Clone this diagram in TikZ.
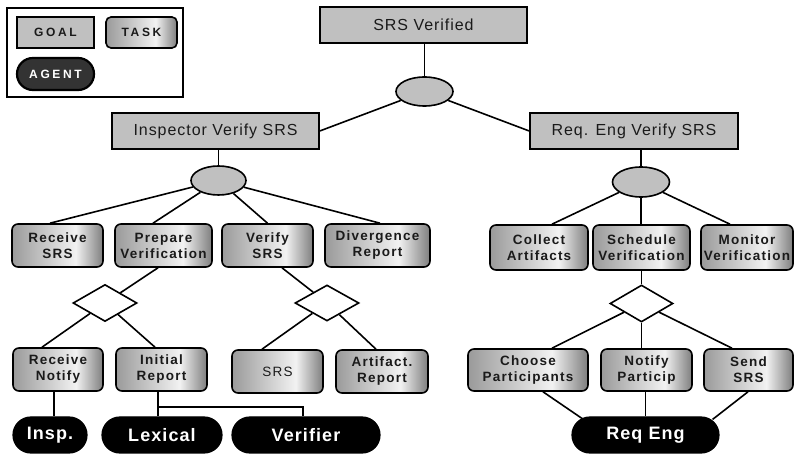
\documentclass[tikz,border=0pt]{standalone}
\usepackage{fontspec}
\setmainfont{Liberation Sans}
\newfontfamily\goalfont[LetterSpace=6]{Liberation Sans}
\newfontfamily\taskfont[LetterSpace=9]{Liberation Sans}
\newfontfamily\agentfont[LetterSpace=6]{Liberation Sans}
\newfontfamily\keyfont[LetterSpace=22]{Liberation Sans}
\usetikzlibrary{shapes.geometric,backgrounds,calc}

\definecolor{goalgray}{HTML}{C0C0C0}
\definecolor{tkL}{HTML}{9A9A9A}
\definecolor{tkM}{HTML}{F2F2F2}
\definecolor{tkR}{HTML}{7E7E7E}
\definecolor{keyagent}{HTML}{333333}
\definecolor{inkdark}{HTML}{1A1A1A}

% left-to-right metallic shading of the task boxes (node spans 25bp..75bp)
\pgfdeclarehorizontalshading{taskshade}{100bp}{color(0bp)=(tkL); color(25bp)=(tkL); color(60bp)=(tkM); color(75bp)=(tkR); color(100bp)=(tkR)}

\tikzset{
  goalbox/.style={rectangle, draw=black, line width=1.5pt, fill=goalgray, inner sep=0pt,
    minimum height=36pt, text=inkdark, font=\goalfont\fontsize{16}{19}\selectfont},
  taskbox/.style={rectangle, draw=black, line width=1.6pt, rounded corners=6pt, shading=taskshade,
    inner sep=0pt, minimum height=43pt, align=center, text=inkdark,
    font=\taskfont\bfseries\fontsize{13.5}{16}\selectfont},
  agentbox/.style={rectangle, draw=black, line width=1.2pt, fill=black, rounded corners=17.9pt,
    inner sep=0pt, minimum height=36pt, text=white,
    font=\agentfont\bfseries\fontsize{18}{21}\selectfont},
  andnode/.style={ellipse, draw=black, line width=1.6pt, fill=goalgray, inner sep=0pt,
    minimum width=57pt, minimum height=29pt},
  ornode/.style={diamond, draw=black, line width=1.6pt, fill=white, inner sep=0pt,
    minimum width=64pt, minimum height=37pt},
  link/.style={line width=1.6pt, draw=black, line join=miter},
  keytext/.style={font=\keyfont\bfseries\fontsize{12}{14}\selectfont}
}

\begin{document}
\begin{tikzpicture}[x=1pt, y=-1pt]
\useasboundingbox (0,0) rectangle (796,454);

% ---- legend ----
\node[draw=black, line width=1.5pt, inner sep=0pt, minimum width=176pt, minimum height=89pt] (key) at (95,52.5) {};
\node[goalbox, keytext, minimum width=77pt, minimum height=31pt] (keygoal) at (55.5,32.5) {GOAL};
\node[taskbox, keytext, rounded corners=5pt, minimum width=71pt, minimum height=31pt] (keytask) at (141.5,32.5) {TASK};
\node[agentbox, keytext, fill=keyagent, line width=2.2pt, rounded corners=15.9pt, minimum width=77pt, minimum height=32pt] (keyagent) at (55.5,74) {AGENT};

% ---- goals ----
\node[goalbox, minimum width=207pt] (srs) at (423.5,25) {SRS Verified};
\node[andnode] (topAnd) at (424.5,91.5) {};
\node[goalbox, minimum width=207pt] (insp) at (215.5,131) {Inspector Verify SRS};
\node[goalbox, minimum width=208pt] (reqg) at (634,131) {Req. Eng Verify SRS};
\node[andnode, minimum width=55pt] (insAnd) at (218.5,180.5) {};
\node[andnode, minimum height=30pt] (reqAnd) at (641,182) {};

% ---- inspector tasks ----
\node[taskbox, minimum width=91pt]  (rsrs) at (57.5,245.5)  {Receive\\SRS};
\node[taskbox, minimum width=97pt]  (prep) at (163.5,245.5) {Prepare\\Verification};
\node[taskbox, minimum width=91pt]  (ver)  at (267.5,245.5) {Verify\\SRS};
\node[taskbox, minimum width=105pt] (div)  at (377.5,245.5) {Divergence\\Report};

% ---- requirements engineer tasks ----
\node[taskbox, minimum width=98pt, minimum height=45pt] (col) at (539,247.5)   {Collect\\Artifacts};
\node[taskbox, minimum width=97pt, minimum height=45pt] (sch) at (641.5,247.5) {Schedule\\Verification};
\node[taskbox, minimum width=92pt, minimum height=45pt] (mon) at (747,247.5)   {Monitor\\Verification};

% ---- or-refinements ----
\node[ornode] (or1) at (105,303) {};
\node[ornode, minimum height=36pt] (or2) at (327,303) {};
\node[ornode, minimum width=63pt] (or3) at (641.5,303.5) {};

% ---- leaf tasks ----
\node[taskbox, minimum width=90pt] (rnot) at (58,369.5)    {Receive\\Notify};
\node[taskbox, minimum width=91pt] (irep) at (161.5,369.5) {Initial\\Report};
\node[taskbox, minimum width=91pt, font=\taskfont\fontsize{13.5}{16}\selectfont] (srs2) at (277.5,371.5) {SRS};
\node[taskbox, minimum width=92pt] (art)  at (382,371.5)   {Artifact.\\Report};
\node[taskbox, minimum width=120pt, minimum height=42pt] (cho) at (528,370)   {Choose\\Participants};
\node[taskbox, minimum width=91pt,  minimum height=42pt] (ntf) at (646.5,370) {Notify\\Particip};
\node[taskbox, minimum width=89pt,  minimum height=42pt] (snd) at (748.5,370) {Send\\SRS};

% ---- agents ----
\node[agentbox, minimum width=74pt]  (inspag) at (50,435)    {Insp.};
\node[agentbox, minimum width=120pt] (lex)    at (162,435)   {Lexical};
\node[agentbox, minimum width=148pt] (verif)  at (306,435)   {Verifier};
\node[agentbox, minimum width=147pt] (reqag)  at (645.5,435) {Req Eng};

% ---- connectors ----
\begin{scope}[on background layer]
  \draw[link] (srs.south -| topAnd) -- (topAnd);
  \draw[link] (topAnd) -- (insp.east);
  \draw[link] (topAnd) -- (reqg.west);
  \draw[link] (insp.south -| insAnd) -- (insAnd);
  \draw[link] (reqg.south -| reqAnd) -- (reqAnd);

  \draw[link] (insAnd) -- ([xshift=-7.5pt]rsrs.north);
  \draw[link] (insAnd) -- ([xshift=-10.5pt]prep.north);
  \draw[link] (insAnd) -- (ver.north);
  \draw[link] (insAnd) -- ([xshift=2.5pt]div.north);

  \draw[link] (reqAnd) -- ([xshift=13pt]col.north);
  \draw[link] (reqAnd) -- (reqAnd |- sch.north);
  \draw[link] (reqAnd) -- ([xshift=-17pt]mon.north);

  \draw[link] ([xshift=-5.5pt]prep.south) -- (or1);
  \draw[link] ([xshift=14.5pt]ver.south) -- (or2);
  \draw[link] (sch.south -| or3) -- (or3);

  \draw[link] (or1) -- ([xshift=-16pt]rnot.north);
  \draw[link] (or1) -- ([xshift=-6.5pt]irep.north);
  \draw[link] (or2) -- ([xshift=-15.5pt]srs2.north);
  \draw[link] (or2) -- ([xshift=-6pt]art.north);
  \draw[link] (or3) -- ([xshift=24pt]cho.north);
  \draw[link] (or3) -- (or3 |- ntf.north);
  \draw[link] (or3) -- ([xshift=-16.5pt]snd.north);

  \draw[link] ([xshift=-4pt]rnot.south) -- ([xshift=-4pt]rnot.south |- inspag.north);
  \draw[link] ([xshift=-3.5pt]irep.south) -- ([xshift=-3.5pt]irep.south |- lex.north);
  \draw[link] ([xshift=-3.5pt,yshift=-15pt]irep.south) -| ([xshift=-3pt]verif.north);

  \draw[link] ([xshift=15pt]cho.south) -- ([xshift=12pt,yshift=-3pt]reqag.north west);
  \draw[link] (reqag.north |- ntf.south) -- (reqag.north);
  \draw[link] ([xshift=-0.5pt]snd.south) -- ([xshift=-7pt,yshift=-3pt]reqag.north east);
\end{scope}
\end{tikzpicture}
\end{document}
